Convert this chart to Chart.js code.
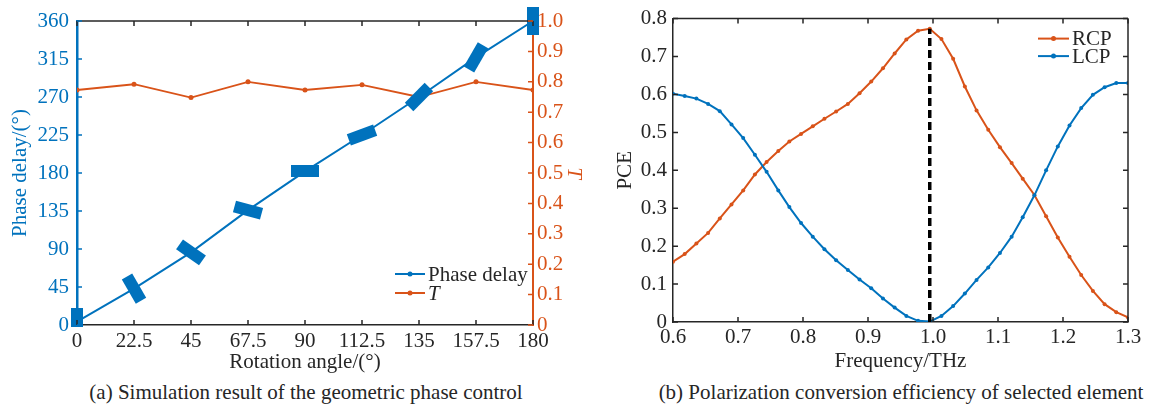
<!DOCTYPE html>
<html>
<head>
<meta charset="utf-8">
<script src="https://cdn.jsdelivr.net/npm/chart.js@4.4.1/dist/chart.umd.min.js"></script>
<style>
    body { margin: 0; background: #fff; }
    #contenedor { position: relative; width: 1157px; height: 407px; background: #fff; }
    canvas { position: absolute; top: 0; }
    .titulo { position: absolute; top: 380px; font: 21px "Liberation Serif", serif; line-height: 24px; color: #262626; text-align: center; white-space: nowrap; }
</style>
</head>
<body>
<div id="contenedor">
    <canvas id="graficoFase" width="590" height="380" style="left:0"></canvas>
    <canvas id="graficoPCE" width="567" height="380" style="left:590px"></canvas>
    <div class="titulo" style="left:0;width:612px">(a) Simulation result of the geometric phase control</div>
    <div class="titulo" style="left:590px;width:622px">(b) Polarization conversion efficiency of selected element</div>
</div>
<script>
// Datos del grafico (a)
const anguloRotacion = [0, 22.5, 45, 67.5, 90, 112.5, 135, 157.5, 180];
const retardoFase = [4, 43, 86, 136, 182, 225, 270, 317, 360];
const transmision = [0.773, 0.792, 0.748, 0.80, 0.773, 0.79, 0.75, 0.80, 0.773];
const ticksAngulo = [0, 22.5, 45, 67.5, 90, 112.5, 135, 157.5, 180];
const ticksFase = [0, 45, 90, 135, 180, 225, 270, 315, 360];
const ticksT = [0, 0.1, 0.2, 0.3, 0.4, 0.5, 0.6, 0.7, 0.8, 0.9, 1.0];

// Datos del grafico (b)
const frecuencia = [0.600, 0.618, 0.636, 0.654, 0.672, 0.690, 0.708, 0.726, 0.744, 0.762,
    0.779, 0.797, 0.815, 0.833, 0.851, 0.869, 0.887, 0.905, 0.923, 0.941,
    0.959, 0.977, 0.995, 1.013, 1.031, 1.049, 1.067, 1.085, 1.103, 1.121,
    1.138, 1.156, 1.174, 1.192, 1.210, 1.228, 1.246, 1.264, 1.282, 1.300];
const rcp = [0.159, 0.179, 0.207, 0.235, 0.273, 0.310, 0.347, 0.389, 0.422, 0.451,
    0.476, 0.496, 0.516, 0.536, 0.555, 0.575, 0.603, 0.634, 0.669, 0.708,
    0.745, 0.768, 0.773, 0.746, 0.694, 0.621, 0.558, 0.507, 0.461, 0.419,
    0.378, 0.335, 0.279, 0.223, 0.172, 0.124, 0.082, 0.047, 0.026, 0.012];
const lcp = [0.602, 0.596, 0.589, 0.575, 0.556, 0.521, 0.485, 0.441, 0.396, 0.347,
    0.303, 0.261, 0.225, 0.192, 0.163, 0.137, 0.112, 0.089, 0.062, 0.038,
    0.016, 0.003, 0.001, 0.016, 0.042, 0.075, 0.111, 0.144, 0.182, 0.225,
    0.276, 0.334, 0.400, 0.463, 0.518, 0.564, 0.599, 0.619, 0.630, 0.630];
const ticksFrecuencia = [0.6, 0.7, 0.8, 0.9, 1.0, 1.1, 1.2, 1.3];
const ticksPCE = [0, 0.1, 0.2, 0.3, 0.4, 0.5, 0.6, 0.7, 0.8];
const picoFrecuencia = 0.995;
const picoPCE = 0.773;

// Estilos
const AZUL = '#0072BD';
const ROJO = '#D95319';
const NEGRO = '#262626';
const inclinacionMarcas = [90, 60, 35, 15, 0, -20, -45, -60, 90]; // giro de cada rectangulo

Chart.defaults.font.family = '"Liberation Serif", serif';
Chart.defaults.font.size = 21;
Chart.defaults.animation = false;

// Rectangulo usado como marcador de la fase
const marcaFase = document.createElement('canvas');
marcaFase.width = 28;
marcaFase.height = 12;
const cm = marcaFase.getContext('2d');
cm.fillStyle = AZUL;
cm.fillRect(0, 0, 28, 12);

function fijarTicks(valores) {
    return scale => { scale.ticks = valores.map(v => ({ value: v })); };
}

// Marcas hacia adentro y marco
const ticksInternos = {
    id: 'ticksInternos',
    afterDraw(chart, args, opts) {
        const ctx = chart.ctx;
        const a = chart.chartArea;
        const L = 5;
        ctx.save();
        ctx.lineWidth = 1.5;
        opts.marcos.forEach(m => {
            ctx.strokeStyle = m.color;
            ctx.beginPath();
            if (m.lado === 'top') { ctx.moveTo(a.left, a.top); ctx.lineTo(a.right, a.top); }
            if (m.lado === 'right') { ctx.moveTo(a.right, a.top); ctx.lineTo(a.right, a.bottom); }
            ctx.stroke();
        });
        opts.marcas.forEach(m => {
            const s = chart.scales[m.eje];
            ctx.strokeStyle = m.color;
            ctx.beginPath();
            s.ticks.forEach(t => {
                const p = s.getPixelForValue(t.value);
                m.lados.forEach(lado => {
                    if (lado === 'bottom') { ctx.moveTo(p, a.bottom); ctx.lineTo(p, a.bottom - L); }
                    if (lado === 'top') { ctx.moveTo(p, a.top); ctx.lineTo(p, a.top + L); }
                    if (lado === 'left') { ctx.moveTo(a.left, p); ctx.lineTo(a.left + L, p); }
                    if (lado === 'right') { ctx.moveTo(a.right, p); ctx.lineTo(a.right - L, p); }
                });
            });
            ctx.stroke();
        });
        ctx.restore();
    }
};

// Leyenda dibujada dentro del area del grafico
const leyendaInterna = {
    id: 'leyendaInterna',
    afterDraw(chart, args, opts) {
        const ctx = chart.ctx;
        const a = chart.chartArea;
        const x0 = a.right - opts.dx;
        let y = opts.desdeAbajo ? a.bottom - opts.dy : a.top + opts.dy;
        ctx.save();
        chart.data.datasets.forEach(ds => {
            if (!ds.label) return;
            ctx.strokeStyle = ds.borderColor;
            ctx.lineWidth = 2;
            ctx.beginPath();
            ctx.moveTo(x0, y);
            ctx.lineTo(x0 + opts.largo, y);
            ctx.stroke();
            ctx.fillStyle = ds.borderColor;
            ctx.beginPath();
            ctx.arc(x0 + opts.largo / 2, y, 2.5, 0, Math.PI * 2);
            ctx.fill();
            ctx.fillStyle = NEGRO;
            ctx.textBaseline = 'middle';
            ctx.font = (opts.italicas.includes(ds.label) ? 'italic ' : '') + '21px "Liberation Serif", serif';
            ctx.fillText(ds.label, x0 + opts.largo + 3, y + 1);
            y += opts.paso;
        });
        ctx.restore();
    }
};

// Grafico (a): retardo de fase y transmision
new Chart(document.getElementById('graficoFase').getContext('2d'), {
    type: 'line',
    data: {
        datasets: [{
            label: 'Phase delay',
            data: anguloRotacion.map((x, i) => ({ x: x, y: retardoFase[i] })),
            borderColor: AZUL,
            backgroundColor: AZUL,
            borderWidth: 2,
            pointStyle: marcaFase,
            pointRotation: inclinacionMarcas,
            yAxisID: 'y',
            clip: { left: false, top: false, right: false, bottom: 2 }
        }, {
            label: 'T',
            data: anguloRotacion.map((x, i) => ({ x: x, y: transmision[i] })),
            borderColor: ROJO,
            backgroundColor: ROJO,
            borderWidth: 1.8,
            pointStyle: 'circle',
            pointRadius: 2.5,
            pointBorderWidth: 0,
            yAxisID: 'y1'
        }]
    },
    options: {
        responsive: false,
        events: [],
        layout: { padding: { top: 21, left: 0, right: 0, bottom: 0 } },
        plugins: {
            legend: { display: false },
            tooltip: { enabled: false },
            ticksInternos: {
                marcos: [{ lado: 'top', color: NEGRO }],
                marcas: [
                    { eje: 'x', lados: ['bottom', 'top'], color: NEGRO },
                    { eje: 'y', lados: ['left'], color: AZUL },
                    { eje: 'y1', lados: ['right'], color: ROJO }
                ]
            },
            leyendaInterna: { dx: 138, dy: 51, desdeAbajo: true, paso: 19, largo: 30, italicas: ['T'] }
        },
        scales: {
            x: {
                type: 'linear',
                min: 0,
                max: 180,
                afterBuildTicks: fijarTicks(ticksAngulo),
                afterFit: s => { s.height = 55; },
                grid: { display: false, drawTicks: false },
                border: { color: NEGRO, width: 1.5 },
                ticks: { color: NEGRO, padding: 4, maxRotation: 0, autoSkip: false, callback: v => String(v) },
                title: { display: true, text: 'Rotation angle/(°)', color: NEGRO, padding: { top: 0, bottom: 5 } }
            },
            y: {
                position: 'left',
                min: 0,
                max: 360,
                afterBuildTicks: fijarTicks(ticksFase),
                afterFit: s => { s.width = 77; },
                grid: { display: false, drawTicks: false },
                border: { color: AZUL, width: 2.5 },
                ticks: { color: AZUL, padding: 8, autoSkip: false },
                title: { display: true, text: 'Phase delay/(°)', color: AZUL, padding: { top: 8, bottom: 0 } }
            },
            y1: {
                position: 'right',
                min: 0,
                max: 1,
                afterBuildTicks: fijarTicks(ticksT),
                afterFit: s => { s.width = 57; },
                grid: { display: false, drawTicks: false },
                border: { color: ROJO, width: 2 },
                ticks: { color: ROJO, padding: 4, autoSkip: false, callback: v => v === 0 ? '0' : v.toFixed(1) },
                title: { display: true, text: 'T', color: ROJO, font: { style: 'italic' }, padding: { top: 4, bottom: 0 } }
            }
        }
    },
    plugins: [ticksInternos, leyendaInterna]
});

// Grafico (b): eficiencia de conversion de polarizacion
new Chart(document.getElementById('graficoPCE').getContext('2d'), {
    type: 'line',
    data: {
        datasets: [{
            label: 'RCP',
            data: frecuencia.map((x, i) => ({ x: x, y: rcp[i] })),
            borderColor: ROJO,
            backgroundColor: ROJO,
            borderWidth: 2,
            pointStyle: 'circle',
            pointRadius: 2,
            pointBorderWidth: 0,
            order: 2
        }, {
            label: 'LCP',
            data: frecuencia.map((x, i) => ({ x: x, y: lcp[i] })),
            borderColor: AZUL,
            backgroundColor: AZUL,
            borderWidth: 2,
            pointStyle: 'circle',
            pointRadius: 2,
            pointBorderWidth: 0,
            order: 1
        }, {
            data: [{ x: picoFrecuencia, y: 0 }, { x: picoFrecuencia, y: picoPCE }],
            borderColor: '#000',
            borderWidth: 3.5,
            borderDash: [8, 4],
            pointRadius: 0,
            order: 0
        }]
    },
    options: {
        responsive: false,
        events: [],
        layout: { padding: { top: 18, left: 0, right: 29, bottom: 0 } },
        plugins: {
            legend: { display: false },
            tooltip: { enabled: false },
            ticksInternos: {
                marcos: [{ lado: 'top', color: NEGRO }, { lado: 'right', color: NEGRO }],
                marcas: [
                    { eje: 'x', lados: ['bottom', 'top'], color: NEGRO },
                    { eje: 'y', lados: ['left', 'right'], color: NEGRO }
                ]
            },
            leyendaInterna: { dx: 90, dy: 20, desdeAbajo: false, paso: 17.5, largo: 31, italicas: [] }
        },
        scales: {
            x: {
                type: 'linear',
                min: 0.6,
                max: 1.3,
                afterBuildTicks: fijarTicks(ticksFrecuencia),
                afterFit: s => { s.height = 58; },
                grid: { display: false, drawTicks: false },
                border: { color: NEGRO, width: 1.5 },
                ticks: { color: NEGRO, padding: 3, maxRotation: 0, autoSkip: false, callback: v => v.toFixed(1) },
                title: { display: true, text: 'Frequency/THz', color: NEGRO, padding: { top: 0, bottom: 6 } }
            },
            y: {
                min: 0,
                max: 0.8,
                afterBuildTicks: fijarTicks(ticksPCE),
                afterFit: s => { s.width = 83; },
                grid: { display: false, drawTicks: false },
                border: { color: NEGRO, width: 1.5 },
                ticks: { color: NEGRO, padding: 6, autoSkip: false, callback: v => v === 0 ? '0' : v.toFixed(1) },
                title: { display: true, text: 'PCE', color: NEGRO, padding: { top: 23, bottom: 0 } }
            }
        }
    },
    plugins: [ticksInternos, leyendaInterna]
});
</script>
</body>
</html>
